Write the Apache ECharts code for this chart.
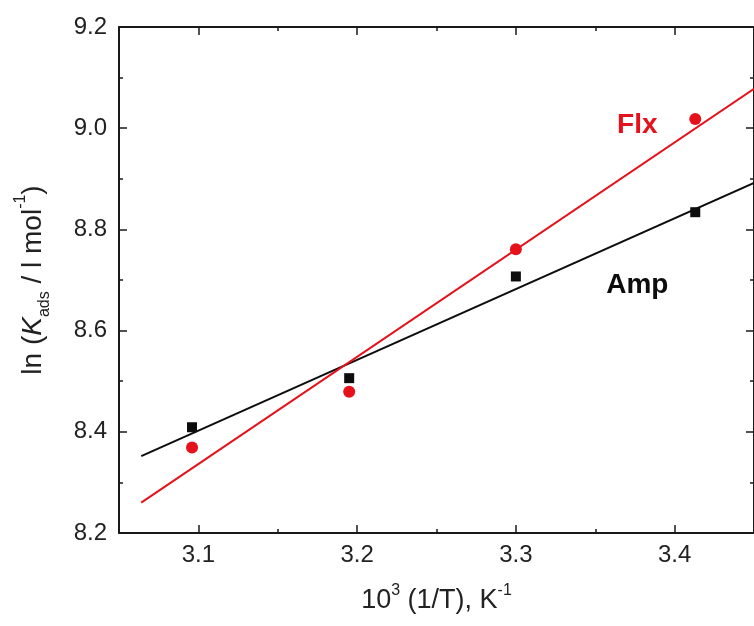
<!DOCTYPE html>
<html>
<head>
<meta charset="utf-8">
<script src="https://cdn.jsdelivr.net/npm/echarts@6/dist/echarts.min.js"></script>
<style>
  html, body { margin: 0; padding: 0; background: #fff; }
  #chart { width: 754px; height: 626px; }
</style>
</head>
<body>
<div id="chart"></div>
<script>
// Inverse temperature, 10^3 (1/T) in K^-1
const invT = [3.096, 3.195, 3.300, 3.413];
// ln K_ads for each adsorbate
const ampLnK = [8.409, 8.506, 8.707, 8.834];
const flxLnK = [8.369, 8.479, 8.761, 9.018];
// Linear fit lines (end points)
const fitX = [3.064, 3.45];
const ampFit = [8.352, 8.892];
const flxFit = [8.260, 9.078];
// Axis ticks
const xMajor = [3.1, 3.2, 3.3, 3.4];
const xMinor = [3.05, 3.15, 3.25, 3.35, 3.45];
// Series labels placed in the plot
const labelNames = ['Flx', 'Amp'];
const labelX = [3.3765, 3.3765];
const labelY = [9.006, 8.69];

const FONT = 'Liberation Sans, Arial, sans-serif';
const AXIS_COLOR = '#1a1a1a';
const TEXT_COLOR = '#222';
const RED = '#e5121b';
const BLACK = '#0d0d0d';

const X_MIN = 3.05, X_MAX = 3.45;

function xAxisDef(pos, ticks, len, withLine, withLabels) {
  return {
    type: 'value', position: pos, min: X_MIN, max: X_MAX,
    axisLine: { show: withLine, onZero: false, lineStyle: { color: AXIS_COLOR, width: 2 } },
    axisTick: { show: true, inside: true, length: len, customValues: ticks,
                lineStyle: { color: AXIS_COLOR, width: 1.5 } },
    axisLabel: withLabels ? {
      show: true, customValues: ticks, margin: 10,
      fontFamily: FONT, fontSize: 24, color: TEXT_COLOR,
      formatter: v => v.toFixed(1)
    } : { show: false },
    splitLine: { show: false }
  };
}

function yAxisDef(pos, withLabels) {
  return {
    type: 'value', position: pos, min: 8.2, max: 9.2, interval: 0.2,
    axisLine: { show: true, onZero: false, lineStyle: { color: AXIS_COLOR, width: 2 } },
    axisTick: { show: true, inside: true, length: 8, lineStyle: { color: AXIS_COLOR, width: 1.5 } },
    minorTick: { show: true, splitNumber: 2, length: 4, lineStyle: { color: AXIS_COLOR, width: 1.5 } },
    axisLabel: withLabels ? {
      show: true, margin: 12, fontFamily: FONT, fontSize: 24, color: TEXT_COLOR,
      formatter: v => v.toFixed(1)
    } : { show: false },
    splitLine: { show: false }, minorSplitLine: { show: false }
  };
}

const xBottom = xAxisDef('bottom', xMajor, 8, true, true);
xBottom.name = '{n|10}{sup|3}{n| (1/T), K}{sup|-1}';
xBottom.nameLocation = 'middle';
xBottom.nameGap = 50;
xBottom.nameTextStyle = {
  fontFamily: FONT, color: TEXT_COLOR,
  rich: {
    n: { fontFamily: FONT, fontSize: 27, color: TEXT_COLOR, lineHeight: 36 },
    sup: { fontFamily: FONT, fontSize: 16, color: TEXT_COLOR, lineHeight: 16, verticalAlign: 'top' }
  }
};

const yLeft = yAxisDef('left', true);
yLeft.name = '{n|ln (}{i|K}{sub|ads}{n| / l mol}{sup|-1}{n|)}';
yLeft.nameLocation = 'middle';
yLeft.nameGap = 66;
yLeft.nameTextStyle = {
  fontFamily: FONT, color: TEXT_COLOR,
  rich: {
    n: { fontFamily: FONT, fontSize: 28, color: TEXT_COLOR, lineHeight: 40 },
    i: { fontFamily: FONT, fontSize: 28, fontStyle: 'italic', color: TEXT_COLOR, lineHeight: 40 },
    sub: { fontFamily: FONT, fontSize: 16, color: TEXT_COLOR, lineHeight: 16, verticalAlign: 'bottom' },
    sup: { fontFamily: FONT, fontSize: 16, color: TEXT_COLOR, lineHeight: 16, verticalAlign: 'top' }
  }
};

const pairs = (xs, ys) => xs.map((x, i) => [x, ys[i]]);

const option = {
  backgroundColor: '#fff',
  animation: false,
  grid: { left: 119, top: 27, bottom: 93, right: -8, containLabel: false },
  xAxis: [
    xBottom,
    xAxisDef('bottom', xMinor, 4, false, false),
    xAxisDef('top', xMajor, 8, true, false),
    xAxisDef('top', xMinor, 4, false, false)
  ],
  yAxis: [yLeft, yAxisDef('right', false)],
  series: [
    {
      name: 'Amp fit', type: 'line', data: pairs(fitX, ampFit),
      showSymbol: false, symbol: 'none', clip: true, z: 2,
      lineStyle: { color: BLACK, width: 2 }, silent: true
    },
    {
      name: 'Flx fit', type: 'line', data: pairs(fitX, flxFit),
      showSymbol: false, symbol: 'none', clip: true, z: 2,
      lineStyle: { color: RED, width: 2 }, silent: true
    },
    {
      name: 'Amp', type: 'scatter', data: pairs(invT, ampLnK),
      symbol: 'rect', symbolSize: 10, z: 4,
      itemStyle: { color: BLACK, opacity: 1 }, silent: true
    },
    {
      name: 'Flx', type: 'scatter', data: pairs(invT, flxLnK),
      symbol: 'circle', symbolSize: 12, z: 5,
      itemStyle: { color: RED, opacity: 1 }, silent: true
    },
    {
      name: 'labels', type: 'scatter', silent: true, symbolSize: 1, z: 6,
      itemStyle: { color: 'rgba(0,0,0,0)', opacity: 1 },
      data: labelNames.map((n, i) => ({
        value: [labelX[i], labelY[i]],
        label: {
          show: true, position: 'inside', formatter: n,
          fontFamily: FONT, fontSize: 28, fontWeight: 'bold',
          color: i === 0 ? RED : BLACK
        }
      }))
    }
  ]
};

const chart = echarts.init(document.getElementById('chart'), null, { renderer: 'canvas' });
chart.setOption(option);
</script>
</body>
</html>
